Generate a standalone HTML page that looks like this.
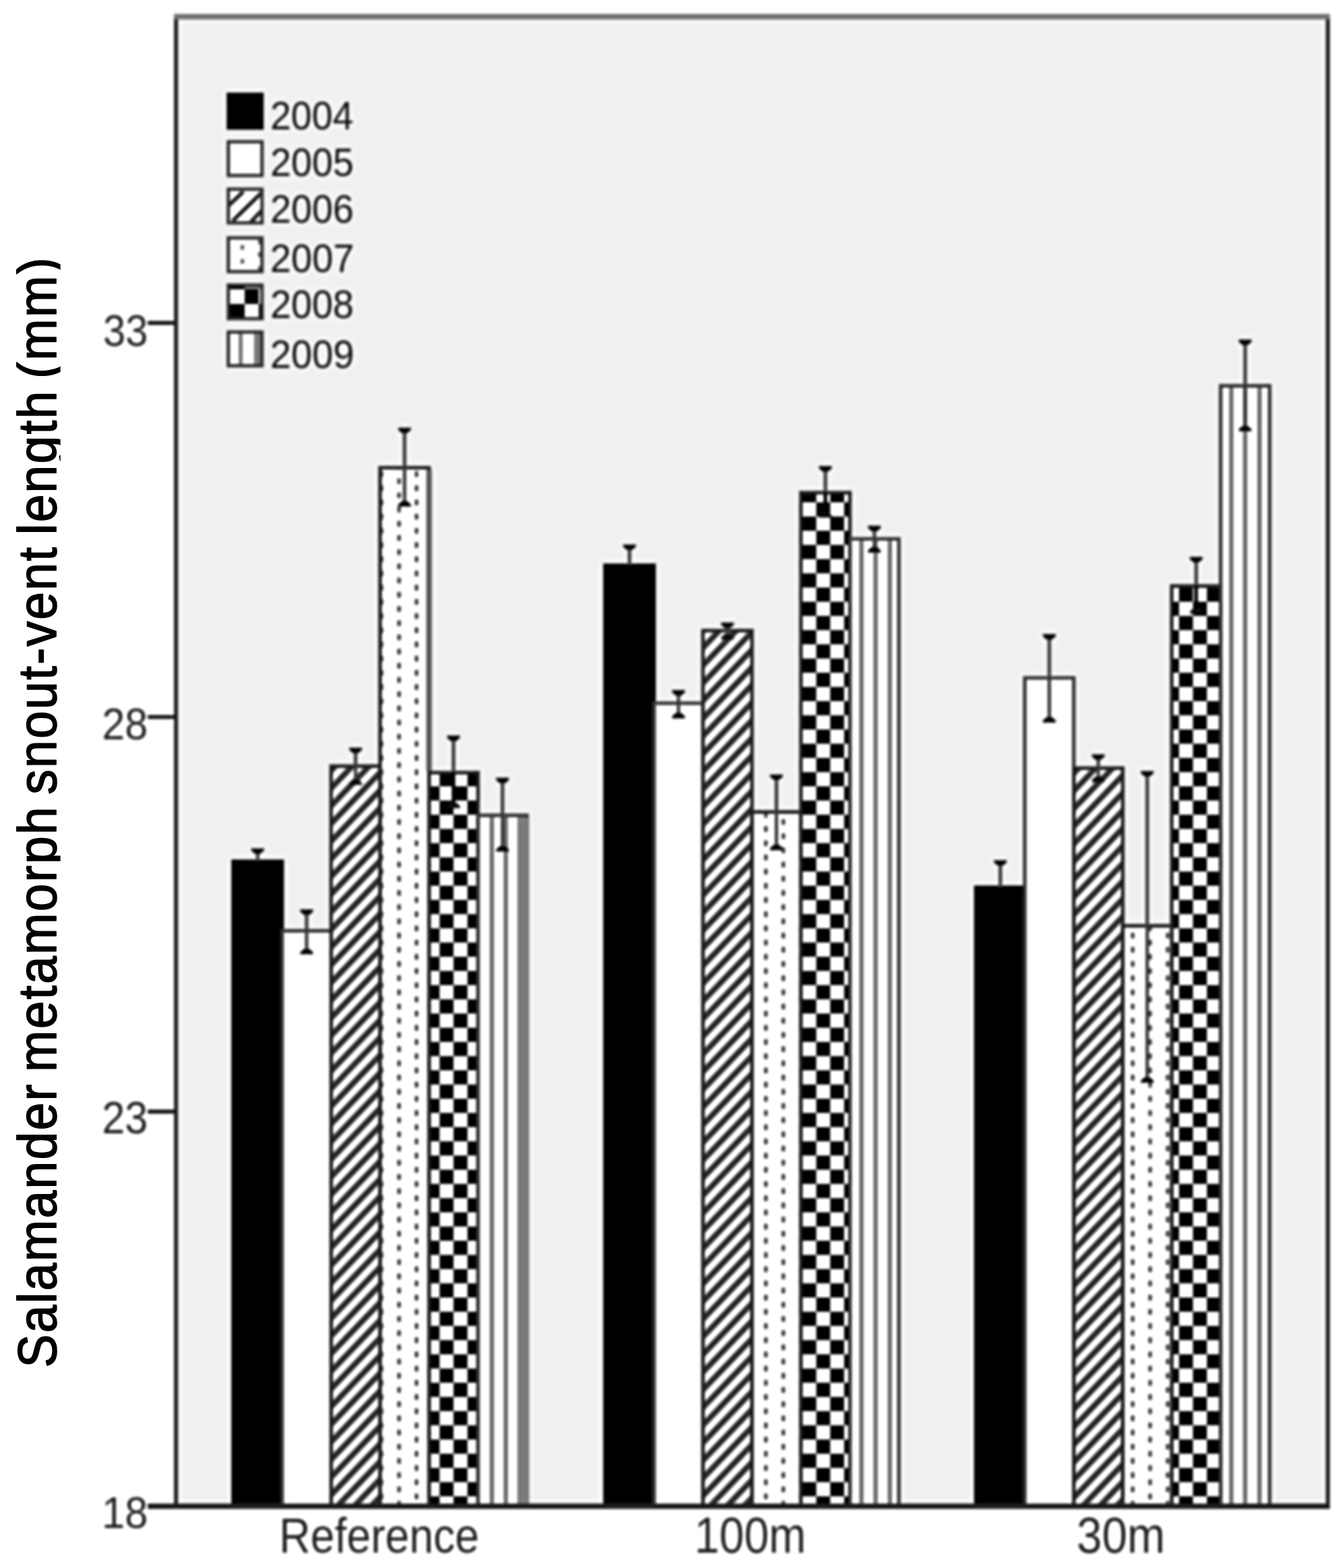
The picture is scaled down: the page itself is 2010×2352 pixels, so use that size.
<!DOCTYPE html>
<html lang="en"><head><meta charset="utf-8"><title>Salamander metamorph snout-vent length</title>
<style>html,body{margin:0;padding:0;background:#fff;}body{width:2010px;height:2352px;overflow:hidden;}svg{display:block;}text{font-family:"Liberation Sans",sans-serif;}</style></head><body>
<svg width="2010" height="2352" viewBox="0 0 2010 2352">
<defs>
<pattern id="hatch" patternUnits="userSpaceOnUse" width="40" height="18.340" patternTransform="translate(540.2 1455.0) rotate(-46.206)"><rect x="0" y="0" width="40" height="18.340" fill="#fff"/><rect x="0" y="-4.40" width="40" height="8.8" fill="#303030"/><rect x="0" y="13.940" width="40" height="8.8" fill="#303030"/></pattern>
<pattern id="chk" patternUnits="userSpaceOnUse" x="10.636" y="29.3" width="41.854" height="42.600"><rect width="41.854" height="42.600" fill="#fff"/><rect x="0" y="0" width="20.927" height="21.300" fill="#000"/><rect x="20.927" y="21.300" width="20.927" height="21.300" fill="#000"/></pattern>
<pattern id="dots" patternUnits="userSpaceOnUse" x="585.50" y="716.38" width="52.4" height="21.3"><rect width="52.4" height="21.3" fill="#fff"/><rect x="10.50" y="0.92" width="5.2" height="8.8" rx="1.5" fill="#3c3c3c"/><rect x="36.70" y="11.58" width="5.2" height="8.8" rx="1.5" fill="#3c3c3c"/></pattern>
<filter id="soft" filterUnits="userSpaceOnUse" x="0" y="0" width="2010" height="2352" color-interpolation-filters="sRGB"><feGaussianBlur in="SourceGraphic" stdDeviation="2.0" result="a"/><feGaussianBlur in="a" stdDeviation="3.2" result="b"/><feComposite in="a" in2="b" operator="arithmetic" k1="0" k2="1.5" k3="-0.5" k4="0"/></filter>
</defs>
<rect width="2010" height="2352" fill="#fff"/>
<g id="chart" filter="url(#soft)">
<rect width="2010" height="2352" fill="#fff"/>
<rect x="264.0" y="25.0" width="1727.8" height="2234.3" fill="#f0f0f0"/>
<rect x="349.77" y="1292.0" width="73.45" height="967.3" fill="#000"/>
<rect x="423.22" y="1396.3" width="73.45" height="863.0" fill="#fff"/>
<rect x="496.67" y="1149.3" width="73.45" height="1110.0" fill="url(#hatch)"/>
<rect x="570.12" y="701.6" width="73.45" height="1557.7" fill="url(#dots)"/>
<rect x="643.57" y="1159.0" width="73.45" height="1100.3" fill="url(#chk)"/>
<rect x="717.02" y="1223.0" width="73.45" height="1036.3" fill="#fff"/>
<rect x="777" y="1223.0" width="15" height="1036.3" fill="#808080"/>
<rect x="734.6" y="1223.0" width="6.4" height="1036.3" fill="#6e6e6e"/>
<rect x="755.5" y="1223.0" width="6.4" height="1036.3" fill="#6e6e6e"/>
<rect x="776.4" y="1223.0" width="6.4" height="1036.3" fill="#6e6e6e"/>
<rect x="349.77" y="1292.0" width="73.45" height="967.3" fill="none" stroke="#000" stroke-width="5.4"/>
<path d="M423.22 2259.3 V1396.3 H496.68 V2259.3" fill="none" stroke="#3a3a3a" stroke-width="5.4"/>
<path d="M496.67 2259.3 V1149.3 H570.12 V2259.3" fill="none" stroke="#262626" stroke-width="5.4"/>
<path d="M570.12 2259.3 V701.6 H643.58 V2259.3" fill="none" stroke="#262626" stroke-width="5.4"/>
<path d="M643.57 2259.3 V1159.0 H717.02 V2259.3" fill="none" stroke="#262626" stroke-width="5.4"/>
<path d="M717.02 2259.3 V1223.0 H790.48 V2259.3" fill="none" stroke="#3a3a3a" stroke-width="5.4"/>
<rect x="907.57" y="848.0" width="73.45" height="1411.3" fill="#000"/>
<rect x="981.02" y="1054.9" width="73.45" height="1204.4" fill="#fff"/>
<rect x="1054.48" y="946.0" width="73.45" height="1313.3" fill="url(#hatch)"/>
<rect x="1127.93" y="1218.0" width="73.45" height="1041.3" fill="url(#dots)"/>
<rect x="1201.38" y="739.0" width="73.45" height="1520.3" fill="url(#chk)"/>
<rect x="1274.83" y="808.4" width="73.45" height="1450.9" fill="#fff"/>
<rect x="1288.9" y="808.4" width="6.4" height="1450.9" fill="#6e6e6e"/>
<rect x="1310.2" y="808.4" width="6.4" height="1450.9" fill="#6e6e6e"/>
<rect x="1331.6" y="808.4" width="6.4" height="1450.9" fill="#6e6e6e"/>
<rect x="907.57" y="848.0" width="73.45" height="1411.3" fill="none" stroke="#000" stroke-width="5.4"/>
<path d="M981.02 2259.3 V1054.9 H1054.47 V2259.3" fill="none" stroke="#3a3a3a" stroke-width="5.4"/>
<path d="M1054.48 2259.3 V946.0 H1127.92 V2259.3" fill="none" stroke="#262626" stroke-width="5.4"/>
<path d="M1127.93 2259.3 V1218.0 H1201.38 V2259.3" fill="none" stroke="#262626" stroke-width="5.4"/>
<path d="M1201.38 2259.3 V739.0 H1274.82 V2259.3" fill="none" stroke="#262626" stroke-width="5.4"/>
<path d="M1274.83 2259.3 V808.4 H1348.27 V2259.3" fill="none" stroke="#3a3a3a" stroke-width="5.4"/>
<rect x="1463.78" y="1331.0" width="73.45" height="928.3" fill="#000"/>
<rect x="1537.23" y="1016.9" width="73.45" height="1242.4" fill="#fff"/>
<rect x="1610.68" y="1152.3" width="73.45" height="1107.0" fill="url(#hatch)"/>
<rect x="1684.12" y="1388.8" width="73.45" height="870.5" fill="url(#dots)"/>
<rect x="1757.58" y="879.0" width="73.45" height="1380.3" fill="url(#chk)"/>
<rect x="1831.03" y="578.7" width="73.45" height="1680.6" fill="#fff"/>
<rect x="1843.7" y="578.7" width="6.4" height="1680.6" fill="#6e6e6e"/>
<rect x="1864.5" y="578.7" width="6.4" height="1680.6" fill="#6e6e6e"/>
<rect x="1886.1" y="578.7" width="6.4" height="1680.6" fill="#6e6e6e"/>
<rect x="1463.78" y="1331.0" width="73.45" height="928.3" fill="none" stroke="#000" stroke-width="5.4"/>
<path d="M1537.23 2259.3 V1016.9 H1610.67 V2259.3" fill="none" stroke="#3a3a3a" stroke-width="5.4"/>
<path d="M1610.68 2259.3 V1152.3 H1684.12 V2259.3" fill="none" stroke="#262626" stroke-width="5.4"/>
<path d="M1684.12 2259.3 V1388.8 H1757.57 V2259.3" fill="none" stroke="#262626" stroke-width="5.4"/>
<path d="M1757.58 2259.3 V879.0 H1831.02 V2259.3" fill="none" stroke="#262626" stroke-width="5.4"/>
<path d="M1831.03 2259.3 V578.7 H1904.47 V2259.3" fill="none" stroke="#3a3a3a" stroke-width="5.4"/>
<rect x="639.38" y="704.6" width="8.4" height="451.4" fill="#5e5e5e"/>
<rect x="776.2" y="1226.5" width="17.6" height="1032.8" fill="#7c7c7c"/>
<rect x="383.90" y="1276.0" width="5.2" height="16.0" fill="#3e3e3e"/>
<path d="M376.90 1272.4 h19.2 v3.4 l-5.4 5 h-8.4 l-5.4 -5 z" fill="#111"/>
<rect x="457.35" y="1367.7" width="5.2" height="60.3" fill="#3e3e3e"/>
<path d="M450.35 1364.1 h19.2 v3.4 l-5.4 5 h-8.4 l-5.4 -5 z" fill="#111"/>
<path d="M450.35 1431.6 h19.2 v-3.4 l-5.4 -5 h-8.4 l-5.4 5 z" fill="#111"/>
<rect x="530.80" y="1125.0" width="5.2" height="49.0" fill="#3e3e3e"/>
<path d="M523.80 1121.4 h19.2 v3.4 l-5.4 5 h-8.4 l-5.4 -5 z" fill="#111"/>
<path d="M523.80 1177.6 h19.2 v-3.4 l-5.4 -5 h-8.4 l-5.4 5 z" fill="#111"/>
<rect x="604.25" y="645.0" width="5.2" height="111.3" fill="#3e3e3e"/>
<path d="M597.25 641.4 h19.2 v3.4 l-5.4 5 h-8.4 l-5.4 -5 z" fill="#111"/>
<path d="M597.25 759.9 h19.2 v-3.4 l-5.4 -5 h-8.4 l-5.4 5 z" fill="#111"/>
<rect x="677.70" y="1106.9" width="5.2" height="101.7" fill="#3e3e3e"/>
<rect x="677.70" y="1159.0" width="5.2" height="49.6" fill="#000"/>
<path d="M670.70 1103.3 h19.2 v3.4 l-5.4 5 h-8.4 l-5.4 -5 z" fill="#111"/>
<path d="M670.70 1212.2 h19.2 v-3.4 l-5.4 -5 h-8.4 l-5.4 5 z" fill="#111"/>
<rect x="751.15" y="1170.2" width="5.2" height="103.7" fill="#3e3e3e"/>
<path d="M744.15 1166.6 h19.2 v3.4 l-5.4 5 h-8.4 l-5.4 -5 z" fill="#111"/>
<path d="M744.15 1277.5 h19.2 v-3.4 l-5.4 -5 h-8.4 l-5.4 5 z" fill="#111"/>
<rect x="941.70" y="820.3" width="5.2" height="27.7" fill="#3e3e3e"/>
<path d="M934.70 816.7 h19.2 v3.4 l-5.4 5 h-8.4 l-5.4 -5 z" fill="#111"/>
<rect x="1015.15" y="1038.6" width="5.2" height="35.5" fill="#3e3e3e"/>
<path d="M1008.15 1035.0 h19.2 v3.4 l-5.4 5 h-8.4 l-5.4 -5 z" fill="#111"/>
<path d="M1008.15 1077.7 h19.2 v-3.4 l-5.4 -5 h-8.4 l-5.4 5 z" fill="#111"/>
<rect x="1088.60" y="937.4" width="5.2" height="18.3" fill="#3e3e3e"/>
<path d="M1081.60 933.8 h19.2 v3.4 l-5.4 5 h-8.4 l-5.4 -5 z" fill="#111"/>
<path d="M1081.60 959.3 h19.2 v-3.4 l-5.4 -5 h-8.4 l-5.4 5 z" fill="#111"/>
<rect x="1162.05" y="1165.3" width="5.2" height="106.5" fill="#3e3e3e"/>
<path d="M1155.05 1161.7 h19.2 v3.4 l-5.4 5 h-8.4 l-5.4 -5 z" fill="#111"/>
<path d="M1155.05 1275.4 h19.2 v-3.4 l-5.4 -5 h-8.4 l-5.4 5 z" fill="#111"/>
<rect x="1235.50" y="702.7" width="5.2" height="70.3" fill="#3e3e3e"/>
<rect x="1235.50" y="739.0" width="5.2" height="34.0" fill="#000"/>
<path d="M1228.50 699.1 h19.2 v3.4 l-5.4 5 h-8.4 l-5.4 -5 z" fill="#111"/>
<path d="M1228.50 776.6 h19.2 v-3.4 l-5.4 -5 h-8.4 l-5.4 5 z" fill="#111"/>
<rect x="1308.95" y="792.1" width="5.2" height="33.2" fill="#3e3e3e"/>
<path d="M1301.95 788.5 h19.2 v3.4 l-5.4 5 h-8.4 l-5.4 -5 z" fill="#111"/>
<path d="M1301.95 828.9 h19.2 v-3.4 l-5.4 -5 h-8.4 l-5.4 5 z" fill="#111"/>
<rect x="1497.90" y="1293.8" width="5.2" height="37.2" fill="#3e3e3e"/>
<path d="M1490.90 1290.2 h19.2 v3.4 l-5.4 5 h-8.4 l-5.4 -5 z" fill="#111"/>
<rect x="1571.35" y="954.6" width="5.2" height="125.7" fill="#3e3e3e"/>
<path d="M1564.35 951.0 h19.2 v3.4 l-5.4 5 h-8.4 l-5.4 -5 z" fill="#111"/>
<path d="M1564.35 1083.9 h19.2 v-3.4 l-5.4 -5 h-8.4 l-5.4 5 z" fill="#111"/>
<rect x="1644.80" y="1135.0" width="5.2" height="34.6" fill="#3e3e3e"/>
<path d="M1637.80 1131.4 h19.2 v3.4 l-5.4 5 h-8.4 l-5.4 -5 z" fill="#111"/>
<path d="M1637.80 1173.2 h19.2 v-3.4 l-5.4 -5 h-8.4 l-5.4 5 z" fill="#111"/>
<rect x="1718.25" y="1160.0" width="5.2" height="460.6" fill="#3e3e3e"/>
<path d="M1711.25 1156.4 h19.2 v3.4 l-5.4 5 h-8.4 l-5.4 -5 z" fill="#111"/>
<path d="M1711.25 1624.2 h19.2 v-3.4 l-5.4 -5 h-8.4 l-5.4 5 z" fill="#111"/>
<rect x="1791.70" y="838.9" width="5.2" height="78.1" fill="#3e3e3e"/>
<rect x="1791.70" y="879.0" width="5.2" height="38.0" fill="#000"/>
<path d="M1784.70 835.3 h19.2 v3.4 l-5.4 5 h-8.4 l-5.4 -5 z" fill="#111"/>
<path d="M1784.70 920.6 h19.2 v-3.4 l-5.4 -5 h-8.4 l-5.4 5 z" fill="#111"/>
<rect x="1865.15" y="512.9" width="5.2" height="130.6" fill="#3e3e3e"/>
<path d="M1858.15 509.3 h19.2 v3.4 l-5.4 5 h-8.4 l-5.4 -5 z" fill="#111"/>
<path d="M1858.15 647.1 h19.2 v-3.4 l-5.4 -5 h-8.4 l-5.4 5 z" fill="#111"/>
<path d="M264.0 2259.3 V25.0" stroke="#2a2a2a" stroke-width="6.2" fill="none"/>
<path d="M1991.8 2259.3 V25.0" stroke="#2a2a2a" stroke-width="6.2" fill="none"/>
<path d="M260.9 25.0 H1994.8999999999999" stroke="#787878" stroke-width="8.6" fill="none"/>
<path d="M221.5 2259.3 H1994.8999999999999" stroke="#242424" stroke-width="8.2" fill="none"/>
<path d="M221.5 484.4 H264.0" stroke="#1e1e1e" stroke-width="6.2" fill="none"/>
<text transform="matrix(0.6022 0 0 0.6732 154.69 518.63)" font-size="100" fill="#2a2a2a" >33</text>
<path d="M221.5 1075.5 H264.0" stroke="#1e1e1e" stroke-width="6.2" fill="none"/>
<text transform="matrix(0.6188 0 0 0.6761 152.91 1109.32)" font-size="100" fill="#2a2a2a" >28</text>
<path d="M221.5 1667.4 H264.0" stroke="#1e1e1e" stroke-width="6.2" fill="none"/>
<text transform="matrix(0.6188 0 0 0.6789 152.91 1700.32)" font-size="100" fill="#2a2a2a" >23</text>
<text transform="matrix(0.6212 0 0 0.6662 152.65 2291.93)" font-size="100" fill="#2a2a2a" >18</text>
<text transform="matrix(0.6503 0 0 0.7432 418.80 2329.06)" font-size="100" fill="#2a2a2a" >Reference</text>
<text transform="matrix(0.6684 0 0 0.7577 1041.82 2329.24)" font-size="100" fill="#2a2a2a" >100m</text>
<text transform="matrix(0.6824 0 0 0.7577 1614.95 2329.24)" font-size="100" fill="#2a2a2a" >30m</text>
<rect x="340.0" y="139.0" width="55.5" height="55.5" fill="#000"/>
<text transform="matrix(0.5604 0 0 0.5915 405.40 194.01)" font-size="100" fill="#1a1a1a" >2004</text>
<rect x="342.5" y="212.7" width="50.5" height="50.5" fill="#fff"/>
<rect x="342.5" y="212.7" width="50.5" height="50.5" fill="none" stroke="#333" stroke-width="5"/>
<text transform="matrix(0.5630 0 0 0.5915 405.38 263.81)" font-size="100" fill="#1a1a1a" >2005</text>
<rect x="342.5" y="283.8" width="50.5" height="50.5" fill="#fff"/>
<g stroke="#222" stroke-width="6" fill="none"><path d="M343.0 308.3 L365.0 287.3"/><path d="M349.0 331.3 L392.0 289.3"/><path d="M376.0 333.3 L393.0 315.3"/></g>
<rect x="342.5" y="283.8" width="50.5" height="50.5" fill="none" stroke="#333" stroke-width="5"/>
<text transform="matrix(0.5630 0 0 0.6000 405.38 334.20)" font-size="100" fill="#1a1a1a" >2006</text>
<rect x="342.5" y="356.9" width="50.5" height="50.5" fill="#fff"/>
<g fill="#555"><rect x="361.0" y="367.4" width="5" height="7" rx="1.5"/><rect x="361.0" y="388.4" width="5" height="7" rx="1.5"/><rect x="387.0" y="359.4" width="5" height="7"/><rect x="387.0" y="378.4" width="5" height="7"/><rect x="387.0" y="399.4" width="5" height="7"/></g>
<rect x="342.5" y="356.9" width="50.5" height="50.5" fill="none" stroke="#333" stroke-width="5"/>
<text transform="matrix(0.5657 0 0 0.6000 405.37 408.00)" font-size="100" fill="#1a1a1a" >2007</text>
<rect x="342.5" y="427.5" width="50.5" height="50.5" fill="#fff"/>
<g fill="#000"><rect x="340.0" y="425.0" width="27" height="9"/><rect x="367.0" y="429.0" width="28" height="5" fill="#777"/><rect x="367.0" y="434.0" width="21" height="22"/><rect x="340.0" y="456.0" width="27" height="24"/><rect x="388.0" y="456.0" width="7.5" height="24"/></g>
<rect x="342.5" y="427.5" width="50.5" height="50.5" fill="none" stroke="#333" stroke-width="5"/>
<text transform="matrix(0.5630 0 0 0.6000 405.38 477.20)" font-size="100" fill="#1a1a1a" >2008</text>
<rect x="342.5" y="498.1" width="50.5" height="50.5" fill="#fff"/>
<g fill="#7a7a7a"><rect x="358.0" y="495.6" width="6" height="55.5"/><rect x="381.0" y="495.6" width="10" height="55.5"/></g>
<rect x="342.5" y="498.1" width="50.5" height="50.5" fill="none" stroke="#333" stroke-width="5"/>
<text transform="matrix(0.5657 0 0 0.5986 405.37 552.30)" font-size="100" fill="#1a1a1a" >2009</text>
</g>
<clipPath id="tclip"><rect x="0" y="0" width="90.6" height="2352"/></clipPath>
<g clip-path="url(#tclip)"><text transform="translate(83.6 2051.45) rotate(-90) scale(0.7500 0.815)" font-size="100" letter-spacing="3.052" word-spacing="-9.0" fill="#000" stroke="#000" stroke-width="2.0" stroke-linejoin="round">Salamander metamorph snout-vent length (mm)</text></g>
</svg></body></html>
